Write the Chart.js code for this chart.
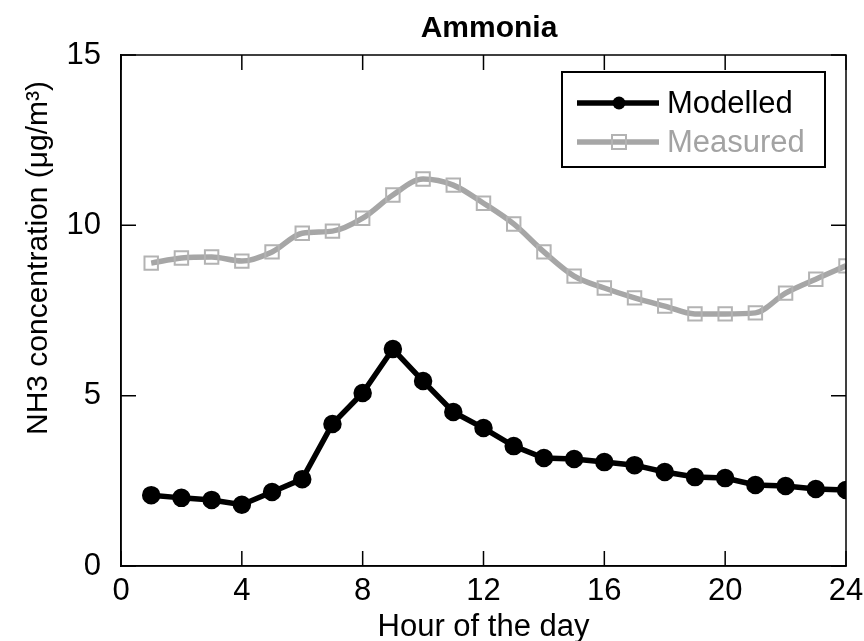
<!DOCTYPE html>
<html>
<head>
<meta charset="utf-8">
<script src="https://cdn.jsdelivr.net/npm/chart.js@4.4.1/dist/chart.umd.min.js"></script>
<style>
html,body{margin:0;padding:0;background:#fff;}
#wrap{width:864px;height:641px;}
</style>
</head>
<body>
<div id="wrap"><canvas id="c" width="864" height="641"></canvas></div>
<script>
const hours = [1,2,3,4,5,6,7,8,9,10,11,12,13,14,15,16,17,18,19,20,21,22,23,24];
const modelled = [2.08,2.0,1.94,1.8,2.17,2.55,4.17,5.08,6.37,5.43,4.52,4.05,3.52,3.17,3.14,3.05,2.96,2.76,2.61,2.58,2.38,2.35,2.26,2.23];
const measured = [8.89,9.04,9.07,8.95,9.22,9.77,9.83,10.21,10.89,11.36,11.18,10.65,10.04,9.22,8.51,8.16,7.87,7.63,7.40,7.40,7.43,8.01,8.42,8.81];
const xTicks = [0,4,8,12,16,20,24];
const yTicks = [0,5,10,15];
const seriesNames = ['Modelled','Measured'];
const chartTitle = 'Ammonia';
const xTitle = 'Hour of the day';
const yTitle = 'NH3 concentration (\u03bcg/m\u00b3)';

const FONT = 'Arial, "Liberation Sans", sans-serif';
const MODEL_COLOR = '#000000';
const MEAS_COLOR = '#a6a6a6';
const MEAS_PT = '#b3b3b3';

const decor = {
  id: 'decor',
  afterDraw(chart) {
    const ctx = chart.ctx;
    const a = chart.chartArea;
    const xs = chart.scales.x, ys = chart.scales.y;
    ctx.save();
    ctx.strokeStyle = '#000';
    ctx.lineWidth = 1.5;
    ctx.strokeRect(a.left, a.top, a.right - a.left, a.bottom - a.top);
    const tl = 15;
    ctx.beginPath();
    xTicks.forEach(v => {
      const px = xs.getPixelForValue(v);
      ctx.moveTo(px, a.bottom); ctx.lineTo(px, a.bottom - tl);
      ctx.moveTo(px, a.top); ctx.lineTo(px, a.top + tl);
    });
    yTicks.forEach(v => {
      const py = ys.getPixelForValue(v);
      ctx.moveTo(a.left, py); ctx.lineTo(a.left + tl, py);
      ctx.moveTo(a.right, py); ctx.lineTo(a.right - tl, py);
    });
    ctx.stroke();
    ctx.fillStyle = '#000';
    ctx.font = 'bold 30px ' + FONT;
    ctx.textAlign = 'center';
    ctx.textBaseline = 'middle';
    ctx.fillText(chartTitle, 489, 29);
    ctx.save();
    ctx.translate(39, 258);
    ctx.rotate(-Math.PI / 2);
    ctx.font = '30px ' + FONT;
    ctx.fillText(yTitle, 0, 0);
    ctx.restore();
    const lx = 562, ly = 72, lw = 263, lh = 95;
    ctx.fillStyle = '#fff';
    ctx.fillRect(lx, ly, lw, lh);
    ctx.strokeStyle = '#000';
    ctx.lineWidth = 2;
    ctx.strokeRect(lx, ly, lw, lh);
    const rows = [
      {y: 103, color: MODEL_COLOR, text: seriesNames[0], tcolor: '#000', pt: 'circle'},
      {y: 142, color: MEAS_COLOR, text: seriesNames[1], tcolor: '#a3a3a3', pt: 'rect'}
    ];
    rows.forEach(r => {
      ctx.strokeStyle = r.color;
      ctx.lineWidth = 5.5;
      ctx.beginPath();
      ctx.moveTo(577, r.y); ctx.lineTo(659, r.y);
      ctx.stroke();
      if (r.pt === 'circle') {
        ctx.fillStyle = r.color;
        ctx.beginPath(); ctx.arc(619, r.y, 6.5, 0, Math.PI * 2); ctx.fill();
      } else {
        ctx.strokeStyle = MEAS_PT;
        ctx.lineWidth = 2;
        ctx.strokeRect(612, r.y - 7, 14, 14);
      }
      ctx.fillStyle = r.tcolor;
      ctx.font = '31px ' + FONT;
      ctx.textAlign = 'left';
      ctx.textBaseline = 'middle';
      ctx.fillText(r.text, 667, r.y + 1);
    });
    ctx.restore();
  }
};

new Chart(document.getElementById('c'), {
  type: 'line',
  data: {
    datasets: [
      {
        label: seriesNames[1],
        data: hours.map((h, i) => ({x: h, y: measured[i]})),
        borderColor: MEAS_COLOR,
        borderWidth: 5.5,
        cubicInterpolationMode: 'monotone',
        pointStyle: 'rect',
        pointRadius: 9.5,
        pointBorderColor: MEAS_PT,
        pointBackgroundColor: 'rgba(0,0,0,0)',
        pointBorderWidth: 2,
        order: 2
      },
      {
        label: seriesNames[0],
        data: hours.map((h, i) => ({x: h, y: modelled[i]})),
        borderColor: MODEL_COLOR,
        borderWidth: 5.5,
        tension: 0,
        pointStyle: 'circle',
        pointRadius: 6.5,
        pointBackgroundColor: MODEL_COLOR,
        pointBorderColor: MODEL_COLOR,
        order: 1
      }
    ]
  },
  options: {
    responsive: false,
    animation: false,
    devicePixelRatio: 1,
    layout: {padding: {left: 0, right: 18, top: 55, bottom: 0}},
    plugins: {legend: {display: false}, title: {display: false}, tooltip: {enabled: false}},
    scales: {
      x: {
        type: 'linear', min: 0, max: 24,
        afterBuildTicks: s => { s.ticks = xTicks.map(v => ({value: v})); },
        afterFit: s => { s.height = 75; s.paddingRight = 0; s.paddingLeft = 0; },
        grid: {display: false, drawTicks: false},
        border: {display: true, color: '#000', width: 1.5},
        ticks: {font: {family: FONT, size: 31}, color: '#000', padding: 7, maxRotation: 0},
        title: {display: true, text: xTitle, font: {family: FONT, size: 31}, color: '#000', padding: {top: 0, bottom: -5}}
      },
      y: {
        type: 'linear', min: 0, max: 15,
        afterBuildTicks: s => { s.ticks = yTicks.map(v => ({value: v})); },
        afterFit: s => { s.width = 121; s.paddingTop = 0; s.paddingBottom = 0; },
        grid: {display: false, drawTicks: false},
        border: {display: true, color: '#000', width: 1.5},
        ticks: {font: {family: FONT, size: 31}, color: '#000', padding: 20}
      }
    }
  },
  plugins: [decor]
});
</script>
</body>
</html>
